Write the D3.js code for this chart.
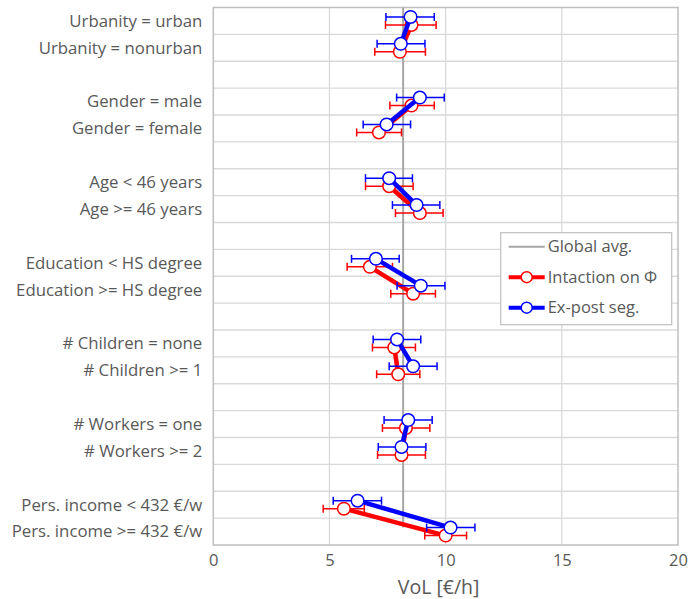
<!DOCTYPE html>
<html>
<head>
<meta charset="utf-8">
<script src="https://cdn.jsdelivr.net/npm/d3@7"></script>
<style>
  body { margin: 0; background: #fff; }
  svg text { font-family: "Open Sans", Lato, sans-serif; fill: #595959; }
</style>
</head>
<body>
<svg id="chart" width="689" height="599"></svg>
<script>
// rows top to bottom, "" = empty spacer row
var categories = [
  "Urbanity = urban", "Urbanity = nonurban", "",
  "Gender = male", "Gender = female", "",
  "Age < 46 years", "Age >= 46 years", "",
  "Education < HS degree", "Education >= HS degree", "",
  "# Children = none", "# Children >= 1", "",
  "# Workers = one", "# Workers >= 2", "",
  "Pers. income < 432 €/w", "Pers. income >= 432 €/w"
];

// Intaction on Φ (red)
var redVal = [8.53, 8.03, null, 8.53, 7.13, null, 7.57, 8.89, null, 6.74, 8.60, null, 7.79, 7.96, null, 8.29, 8.10, null, 5.62, 10.00];
var redLo  = [7.41, 6.95, null, 7.60, 6.17, null, 6.55, 7.84, null, 5.76, 7.64, null, 6.85, 7.03, null, 7.28, 7.07, null, 4.73, 9.10];
var redHi  = [9.59, 9.13, null, 9.51, 8.10, null, 8.60, 9.89, null, 7.71, 9.56, null, 8.70, 8.89, null, 9.32, 9.13, null, 6.50, 10.90];

// Ex-post seg. (blue)
var blueVal = [8.49, 8.07, null, 8.89, 7.46, null, 7.57, 8.75, null, 7.00, 8.93, null, 7.91, 8.60, null, 8.39, 8.10, null, 6.21, 10.21];
var blueLo  = [7.43, 7.05, null, 7.89, 6.45, null, 6.55, 7.71, null, 5.95, 7.91, null, 6.88, 7.57, null, 7.35, 7.10, null, 5.16, 9.18];
var blueHi  = [9.51, 9.11, null, 9.94, 8.49, null, 8.57, 9.75, null, 8.00, 9.97, null, 8.93, 9.63, null, 9.42, 9.15, null, 7.24, 11.26];

var globalAvg = 8.17;
var xTicks = [0, 5, 10, 15, 20];

var svg = d3.select("#chart"),
    margin = {top: 7.5, right: 11, bottom: 54, left: 213.3},
    width = 689 - margin.left - margin.right,
    height = 599 - margin.top - margin.bottom;

var x = d3.scaleLinear().domain([0, 20]).range([margin.left, margin.left + width]);
var y = d3.scaleLinear().domain([0, categories.length]).range([margin.top, margin.top + height]);

// grid
var g = svg.append("g");
g.selectAll("line.hgrid")
    .data(d3.range(1, categories.length))
    .enter().append("line")
    .attr("x1", x(0)).attr("x2", x(20))
    .attr("y1", d => y(d)).attr("y2", d => y(d))
    .attr("stroke", "#d9d9d9").attr("stroke-width", 1.3);
g.selectAll("line.vgrid")
    .data(xTicks.slice(1, -1))
    .enter().append("line")
    .attr("x1", d => x(d)).attr("x2", d => x(d))
    .attr("y1", y(0)).attr("y2", y(categories.length))
    .attr("stroke", "#d9d9d9").attr("stroke-width", 1.3);

// border
svg.append("rect")
    .attr("x", x(0)).attr("y", y(0))
    .attr("width", x(20) - x(0)).attr("height", y(categories.length) - y(0))
    .attr("fill", "none").attr("stroke", "#bfbfbf").attr("stroke-width", 1.5);

// category labels
svg.append("g").selectAll("text")
    .data(categories)
    .enter().append("text")
    .attr("x", margin.left - 11)
    .attr("y", (d, i) => y(i + 0.5))
    .attr("dy", "0.35em")
    .attr("text-anchor", "end")
    .attr("font-size", 16.8)
    .text(d => d);

// x axis
var xAxis = svg.append("g")
    .attr("transform", "translate(0," + (y(categories.length)) + ")")
    .call(d3.axisBottom(x).tickValues(xTicks).tickSize(0).tickPadding(9));
xAxis.select(".domain").remove();
xAxis.selectAll("text").attr("font-size", 16.5).style("font-family", "'Open Sans', sans-serif").attr("fill", "#595959");

svg.append("text")
    .attr("x", x(10) - 7)
    .attr("y", 594)
    .attr("text-anchor", "middle")
    .attr("font-size", 19.5)
    .text("VoL [€/h]");

// global average line
svg.append("line")
    .attr("x1", x(globalAvg)).attr("x2", x(globalAvg))
    .attr("y1", y(0)).attr("y2", y(categories.length - 0.5) - 4)
    .attr("stroke", "#a6a6a6").attr("stroke-width", 2);

function drawSeries(vals, lo, hi, color, off) {
    var layer = svg.append("g");
    var pts = vals.map((v, i) => ({v: v, lo: lo[i], hi: hi[i], i: i})).filter(d => d.v != null);
    var cy = d => y(d.i + 0.5) + off;

    // connecting lines within each group (pairs)
    for (var k = 0; k < pts.length; k += 2) {
        layer.append("line")
            .attr("x1", x(pts[k].v)).attr("y1", cy(pts[k]))
            .attr("x2", x(pts[k + 1].v)).attr("y2", cy(pts[k + 1]))
            .attr("stroke", color).attr("stroke-width", 4.5);
    }

    // error bars
    var eb = layer.selectAll("g.eb").data(pts).enter().append("g");
    eb.append("line")
        .attr("x1", d => x(d.lo)).attr("x2", d => x(d.hi))
        .attr("y1", cy).attr("y2", cy)
        .attr("stroke", color).attr("stroke-width", 1.5);
    eb.append("line")
        .attr("x1", d => x(d.lo)).attr("x2", d => x(d.lo))
        .attr("y1", d => cy(d) - 4).attr("y2", d => cy(d) + 4)
        .attr("stroke", color).attr("stroke-width", 1.5);
    eb.append("line")
        .attr("x1", d => x(d.hi)).attr("x2", d => x(d.hi))
        .attr("y1", d => cy(d) - 4).attr("y2", d => cy(d) + 4)
        .attr("stroke", color).attr("stroke-width", 1.5);

    // markers
    layer.selectAll("circle").data(pts).enter().append("circle")
        .attr("cx", d => x(d.v)).attr("cy", cy).attr("r", 6.3)
        .attr("fill", "#fff").attr("stroke", color).attr("stroke-width", 1.5);
}

drawSeries(redVal, redLo, redHi, "#ff0000", 4);
drawSeries(blueVal, blueLo, blueHi, "#0000ff", -4);

// legend
var leg = svg.append("g").attr("transform", "translate(500.7,232.7)");
leg.append("rect")
    .attr("width", 171).attr("height", 92)
    .attr("fill", "#fff").attr("stroke", "#bfbfbf").attr("stroke-width", 1.2);
var legItems = [
  {label: "Global avg.", color: "#a6a6a6", w: 2, marker: false},
  {label: "Intaction on Φ", color: "#ff0000", w: 4, marker: true},
  {label: "Ex-post seg.", color: "#0000ff", w: 4, marker: true}
];
legItems.forEach(function (d, i) {
    var yy = 14 + i * 30.5;
    leg.append("line").attr("x1", 8).attr("x2", 44).attr("y1", yy).attr("y2", yy)
        .attr("stroke", d.color).attr("stroke-width", d.w);
    if (d.marker) {
        leg.append("circle").attr("cx", 26).attr("cy", yy).attr("r", 5.5)
            .attr("fill", "#fff").attr("stroke", d.color).attr("stroke-width", 1.5);
    }
    leg.append("text").attr("x", 47).attr("y", yy).attr("dy", "0.35em")
        .attr("font-size", 16.5).text(d.label);
});
</script>
</body>
</html>
